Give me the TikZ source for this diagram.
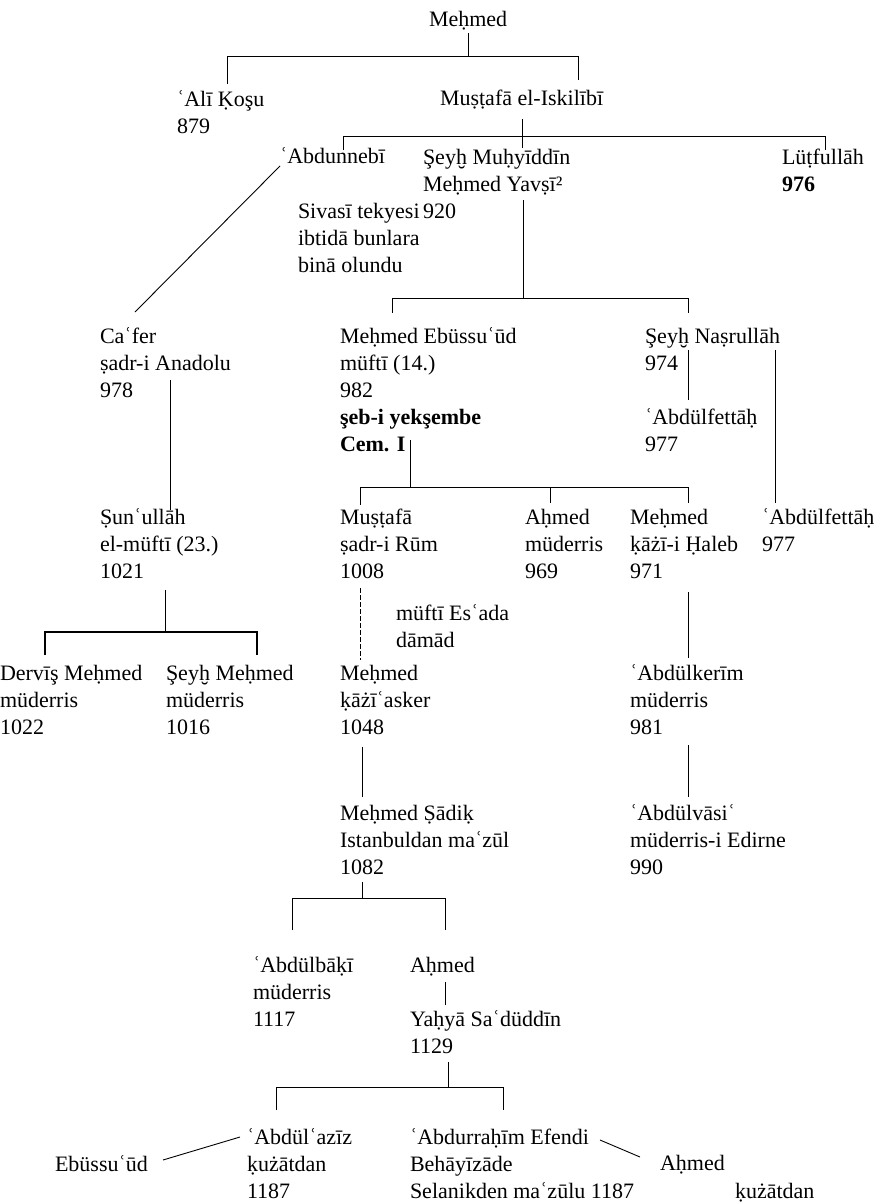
\documentclass[tikz,border=0pt]{standalone}
\usepackage{fontspec}
\setmainfont{Liberation Serif}
% first line strut: puts every first baseline 18pt below the node's top
\newcommand\lnA{\rule{0pt}{18pt}}
\begin{document}
\begin{tikzpicture}[x=1pt,y=-1pt,
  person/.style={anchor=north west,inner sep=0pt,outer sep=0pt,align=left,
    font=\fontsize{22}{27}\selectfont},
  link/.style={line width=0.9pt},
  heavy/.style={line width=1.9pt},
  faint/.style={line width=0.6pt,dash pattern=on 5pt off 2pt}]
\fill[white] (0,0) rectangle (885,1204);
\useasboundingbox (0,0) rectangle (885,1204);

% ---- people ----
\node[person] (top) at (429,9) {\lnA Meḥmed};
\node[person] (ali) at (177,88) {\lnA ʿAlī Ḳoşu\\879};
\node[person] (iskilibi) at (440,88) {\lnA Muṣṭafā el-Iskilībī};
\node[person] (nebi) at (280,146) {\lnA ʿAbdunnebī};
\node[person] (yavsi) at (423,146) {\lnA Şeyḫ Muḥyīddīn\\Meḥmed Yavṣī²\\920};
\node[person] (lutfi) at (782,146) {\lnA Lüṭfullāh\\\textbf{976}};
\node[person] (sivasi) at (298,200) {\lnA Sivasī tekyesi\\ibtidā bunlara\\binā olundu};
\node[person] (cafer) at (100,325) {\lnA Caʿfer\\ṣadr-i Anadolu\\978};
\node[person] (ebus) at (340,325) {\lnA Meḥmed Ebüssuʿūd\\müftī (14.)\\982\\\textbf{şeb-i yekşembe}\\\textbf{Cem. I}};
\node[person] (nasr) at (645,325) {\lnA Şeyḫ Naṣrullāh\\974};
\node[person] (fettahA) at (645,406) {\lnA ʿAbdülfettāḥ\\977};
\node[person] (sunul) at (100,506) {\lnA Ṣunʿullāh\\el-müftī (23.)\\1021};
\node[person] (mustafa) at (340,506) {\lnA Muṣṭafā\\ṣadr-i Rūm\\1008};
\node[person] (ahmedA) at (525,506) {\lnA Aḥmed\\müderris\\969};
\node[person] (haleb) at (630,506) {\lnA Meḥmed\\ḳāżī-i Ḥaleb\\971};
\node[person] (fettahB) at (762,506) {\lnA ʿAbdülfettāḥ\\977};
\node[person] (esad) at (396,602) {\lnA müftī Esʿada\\dāmād};
\node[person] (dervis) at (0,662) {\lnA Dervīş Meḥmed\\müderris\\1022};
\node[person] (seyhm) at (166,662) {\lnA Şeyḫ Meḥmed\\müderris\\1016};
\node[person] (kazi) at (340,662) {\lnA Meḥmed\\ḳāżīʿasker\\1048};
\node[person] (kerim) at (630,662) {\lnA ʿAbdülkerīm\\müderris\\981};
\node[person] (sadik) at (340,802) {\lnA Meḥmed Ṣādiḳ\\Istanbuldan maʿzūl\\1082};
\node[person] (vasi) at (630,802) {\lnA ʿAbdülvāsiʿ\\müderris-i Edirne\\990};
\node[person] (baki) at (253,954) {\lnA ʿAbdülbāḳī\\müderris\\1117};
\node[person] (ahmedB) at (410,954) {\lnA Aḥmed};
\node[person] (yahya) at (410,1008) {\lnA Yaḥyā Saʿdüddīn\\1129};
\node[person] (aziz) at (247,1126) {\lnA ʿAbdülʿazīz\\ḳużātdan\\1187};
\node[person] (rahim) at (410,1126) {\lnA ʿAbdurraḥīm Efendi\\Behāyīzāde\\Selanikden maʿzūlu 1187};
\node[person] (ebusB) at (55,1153) {\lnA Ebüssuʿūd};
\node[person] (ahmedC) at (660,1152) {\lnA Aḥmed};
\node[person] (kuzat) at (735,1180) {\lnA ḳużātdan};

% ---- connector points ----
\coordinate (s1a) at (468,33);   \coordinate (s1b) at (468,56);
\coordinate (b1l) at (227,56);   \coordinate (b1r) at (578,56);
\coordinate (d1l) at (227,84);   \coordinate (d1r) at (578,80);
\coordinate (s2a) at (522,119);  \coordinate (s2b) at (522,148);
\coordinate (b2l) at (343,136);  \coordinate (b2r) at (825,136);
\coordinate (d2l) at (343,150);  \coordinate (d2r) at (825,150);
\coordinate (dgA) at (280,166);  \coordinate (dgB) at (135,312);
\coordinate (s3a) at (523,200);  \coordinate (s3b) at (523,298);
\coordinate (b3l) at (392,298);  \coordinate (b3r) at (688,298);
\coordinate (d3l) at (392,313);  \coordinate (d3r) at (688,313);
\coordinate (nsA) at (688,350);  \coordinate (nsB) at (688,400);
\coordinate (lgA) at (775,350);  \coordinate (lgB) at (775,503);
\coordinate (cfA) at (170,380);  \coordinate (cfB) at (170,510);
\coordinate (s4a) at (410,440);  \coordinate (s4b) at (410,487);
\coordinate (b4l) at (360,487);  \coordinate (b4m) at (550,487);  \coordinate (b4r) at (688,487);
\coordinate (d4l) at (360,505);  \coordinate (d4m) at (550,503);  \coordinate (d4r) at (688,503);
\coordinate (s5a) at (165,590);  \coordinate (s5b) at (165,632);
\coordinate (b5l) at (45,632);   \coordinate (b5r) at (257,632);
\coordinate (d5l) at (45,655);   \coordinate (d5r) at (257,655);
\coordinate (esA) at (360,588);  \coordinate (esB) at (360,660);
\coordinate (hlA) at (688,592);  \coordinate (hlB) at (688,658);
\coordinate (kzA) at (362,747);  \coordinate (kzB) at (362,797);
\coordinate (krA) at (688,745);  \coordinate (krB) at (688,797);
\coordinate (s6a) at (362,882);  \coordinate (s6b) at (362,898);
\coordinate (b6l) at (292,898);  \coordinate (b6r) at (445,898);
\coordinate (d6l) at (292,930);  \coordinate (d6r) at (445,930);
\coordinate (ahA) at (445,982);  \coordinate (ahB) at (445,1005);
\coordinate (s7a) at (448,1062); \coordinate (s7b) at (448,1087);
\coordinate (b7l) at (276,1087); \coordinate (b7r) at (503,1087);
\coordinate (d7l) at (276,1110); \coordinate (d7r) at (503,1110);
\coordinate (ebA) at (163,1160); \coordinate (ebB) at (240,1137);
\coordinate (efA) at (600,1140); \coordinate (efB) at (640,1157);

% ---- connectors ----
\draw[link] (s1a) -- (s1b);
\draw[link] (d1l) -- (b1l) -- (b1r) -- (d1r);
\draw[link] (s2a) -- (s2b);
\draw[link] (d2l) -- (b2l) -- (b2r) -- (d2r);
\draw[link] (dgA) -- (dgB);
\draw[link] (s3a) -- (s3b);
\draw[link] (d3l) -- (b3l) -- (b3r) -- (d3r);
\draw[link] (nsA) -- (nsB);
\draw[link] (lgA) -- (lgB);
\draw[link] (cfA) -- (cfB);
\draw[link] (s4a) -- (s4b);
\draw[link] (d4l) -- (b4l) -- (b4r) -- (d4r);
\draw[link] (b4m) -- (d4m);
\draw[link] (s5a) -- (s5b);
\draw[heavy] (d5l) -- (b5l) -- (b5r) -- (d5r);
\draw[faint] (esA) -- (esB);
\draw[link] (hlA) -- (hlB);
\draw[link] (kzA) -- (kzB);
\draw[link] (krA) -- (krB);
\draw[link] (s6a) -- (s6b);
\draw[link] (d6l) -- (b6l) -- (b6r) -- (d6r);
\draw[link] (ahA) -- (ahB);
\draw[link] (s7a) -- (s7b);
\draw[link] (d7l) -- (b7l) -- (b7r) -- (d7r);
\draw[link] (ebA) -- (ebB);
\draw[link] (efA) -- (efB);
\end{tikzpicture}
\end{document}
